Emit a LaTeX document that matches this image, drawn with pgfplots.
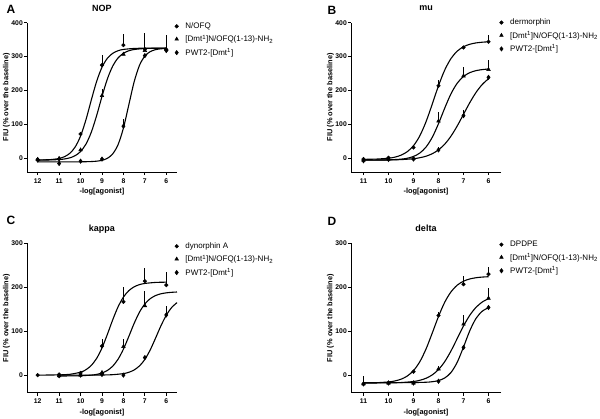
\documentclass[border=0pt]{standalone}
\usepackage{fontspec}
\setmainfont{Liberation Sans}
\usepackage{pgfplots}
\pgfplotsset{compat=1.18}

\pgfplotsset{
  prism/.style={
    scale only axis, width=150pt, height=149.3pt,
    axis lines=left, axis line style={-, line width=0.9pt},
    x dir=reverse, clip=false,
    tick align=outside, major tick length=3pt,
    tick style={line width=0.8pt, black},
    ticklabel style={font=\fontsize{6.8}{7}\selectfont\bfseries},
    yticklabel style={inner sep=1pt},
    /pgf/number format/assume math mode=true,
    label style={font=\fontsize{7.4}{8}\selectfont\bfseries},
    xlabel={-log[agonist]}, ylabel={FIU (\% over the baseline)},
    xlabel style={at={(axis description cs:0.5,-0.134)}, anchor=center},
    ylabel style={at={(axis description cs:-0.137,0.5)}, anchor=center},
    every axis title shift=0pt,
    title style={font=\fontsize{9}{10}\selectfont\bfseries, at={(axis description cs:0.5,1.098)}, anchor=center},
    ymin=-40,
    legend style={draw=none, fill=none, font=\fontsize{8}{9}\selectfont,
      anchor=north west, row sep=1pt, inner sep=0pt},
    legend cell align=left,
    legend image code/.code={\path (-3pt,0pt) (6.5pt,0pt); \draw[#1] plot coordinates {(0pt,0pt)};},
  },
  curve/.style={black, line width=1.1pt, smooth, no marks, forget plot},
  pts/.style={black, only marks, line width=0.5pt,
    error bars/y dir=plus, error bars/y explicit, error bars/error mark=none,
    error bars/error bar style={line width=0.9pt, black}},
}
\newcommand{\dmt}{[Dmt\textsuperscript{1}]N/OFQ(1-13)-NH\textsubscript{2}}
\newcommand{\pwt}{PWT2-[Dmt\textsuperscript{1}]}

\begin{document}
\begin{tikzpicture}
\useasboundingbox (0pt,0pt) rectangle (600pt,419pt);

\node[font=\fontsize{12}{12}\selectfont\bfseries] at (11pt,410pt) {A};
\node[font=\fontsize{12}{12}\selectfont\bfseries] at (332pt,409pt) {B};
\node[font=\fontsize{12}{12}\selectfont\bfseries] at (11pt,199pt) {C};
\node[font=\fontsize{12}{12}\selectfont\bfseries] at (332pt,198pt) {D};

% A: NOP
\begin{axis}[prism, at={(27pt,247pt)}, anchor=south west,
  title={NOP}, xmin=5.5, xmax=12.5, ymax=400,
  xtick={12,11,10,9,8,7,6}, ytick={0,100,200,300,400},
  legend style={at={(axis description cs:0.975,1.015)}}]
\addplot[curve] table {
x y
12 -4.7
11.5 -3.8
11.25 -2.5
11 0.0
10.75 5.1
10.5 15.1
10.25 33.8
10 66
9.75 113.8
9.5 171.9
9.25 227.1
9 268.8
8.75 295
8.5 309.7
8.25 317.4
8 321.2
7.5 324.1
7 324.8
6 325
};
\addplot[curve] table {
x y
12 -4.9
11.5 -4.6
11 -3.3
10.75 -1.6
10.5 1.7
10.25 8.2
10 20.3
9.75 42
9.5 77.1
9.25 126.3
9 182.6
8.75 234.1
8.5 272.2
8.25 296.2
8 309.9
7.75 317.3
7.5 321
7 324
6.5 324.7
6 325
};
\addplot[curve] table {
x y
12 -10
11 -10
10 -10
9.5 -9.2
9.25 -8.1
9 -5.6
8.75 0.3
8.5 13.4
8.25 40.6
8 89.4
7.75 157.5
7.5 225.6
7.25 274.4
7 301.6
6.75 314.7
6.5 320.6
6.25 323.1
6 324.2
};
\addplot[pts, mark=*, mark size=1.8pt] table[y error=e] {
x y e
12 -3 0
11 -2 0
10 72 0
9 275 30
8 334 34
7 322 48
6 320 45
};
\addlegendentry{N/OFQ}
\addplot[pts, mark=triangle*, mark size=2.1pt] table[y error=e] {
x y e
12 -3 0
11 0 0
10 25 0
9 185 20
8 307 0
7 318 0
6 322 0
};
\addlegendentry{\dmt}
\addplot[pts, mark=diamond*, mark size=2.2pt] table[y error=e] {
x y e
12 -5 0
11 -15 0
10 -8 0
9 -2 0
8 95 20
7 303 0
6 318 0
};
\addlegendentry{\pwt}
\end{axis}

% B: mu
\begin{axis}[prism, at={(351pt,247pt)}, anchor=south west,
  title={mu}, xmin=5.5, xmax=11.5, ymax=400,
  xtick={11,10,9,8,7,6}, ytick={0,100,200,300,400},
  legend style={at={(axis description cs:0.98,1.04)}}]
\addplot[curve] table {
x y
11 -2.7
10.5 -2
10 0.6
9.75 3.7
9.5 9.5
9.25 19.8
9 37.5
8.75 66.2
8.5 107.9
8.25 160
8 214.2
7.75 260.6
7.5 294.5
7.25 316.2
7 329.1
6.75 336.4
6.5 340.4
6.25 342.5
6 343.7
};
\addplot[curve] table {
x y
11 -5
10.5 -4.8
10 -4.3
9.5 -2.2
9.25 0.5
9 5.8
8.75 15.7
8.5 33.4
8.25 62.2
8 102.4
7.75 148.5
7.5 190.6
7.25 221.8
7 241.5
6.75 252.7
6.5 258.7
6.25 261.8
6 263.4
};
\addplot[curve] table {
x y
11 -4.9
10.5 -4.8
10 -4.5
9.5 -3.5
9 -0.8
8.75 2
8.5 6.5
8.25 13.8
8 25.2
7.75 42.1
7.5 65.7
7.25 95.8
7 130
6.75 164.2
6.5 194.3
6.25 217.9
6 234.8
};
\addplot[pts, mark=*, mark size=1.8pt] table[y error=e] {
x y e
11 -2 0
10 2 0
9 32 0
8 214 16
7 327 0
6 344 20
};
\addlegendentry{dermorphin}
\addplot[pts, mark=triangle*, mark size=2.1pt] table[y error=e] {
x y e
11 -5 0
10 -2 0
9 0 0
8 110 28
7 243 27
6 262 28
};
\addlegendentry{\dmt}
\addplot[pts, mark=diamond*, mark size=2.2pt] table[y error=e] {
x y e
11 -7 0
10 -3 0
9 -2 0
8 25 10
7 126 17
6 239 0
};
\addlegendentry{\pwt}
\end{axis}

% C: kappa
\begin{axis}[prism, at={(27pt,26.3pt)}, anchor=south west,
  title={kappa}, xmin=5.5, xmax=12.5, ymax=300,
  xtick={12,11,10,9,8,7,6}, ytick={0,100,200,300},
  legend style={at={(axis description cs:0.975,1.02)}}]
\addplot[curve] table {
x y
12 0
11 0.6
10.5 1.9
10 6.7
9.75 12.3
9.5 22.1
9.25 38.1
9 61.9
8.75 92.7
8.5 125.9
8.25 155.5
8 177.7
7.75 192.3
7.5 201.1
7.25 206.1
7 208.8
6.5 211.1
6 211.7
};
\addplot[curve] table {
x y
11 -2
10.5 -1.8
10 -1.4
9.5 0
9.25 1.7
9 4.9
8.75 10.6
8.5 20.4
8.25 36.2
8 59.2
7.75 87.9
7.5 117.8
7.25 143.5
7 162.1
6.75 174.1
6.5 181.2
6.25 185.2
6 187.4
5.75 188.6
5.5 189.3
};
\addplot[curve] table {
x y
11 0
10 0
9 0.3
8.5 1.0
8 3.5
7.75 6.4
7.5 11.8
7.25 21
7 35.8
6.75 57.4
6.5 84.3
6.25 112.3
6 136.4
5.75 153.9
5.5 165.1
};
\addplot[pts, mark=*, mark size=1.8pt] table[y error=e] {
x y e
12 0 0
11 1.5 0
10 5 0
9 66 16
8 167 34
7 214 29
6 205 30
};
\addlegendentry{dynorphin A}
\addplot[pts, mark=triangle*, mark size=2.1pt] table[y error=e] {
x y e
11 -1.5 0
10 0 0
9 6 0
8 65 18
7 158 33
};
\addlegendentry{\dmt}
\addplot[pts, mark=diamond*, mark size=2.2pt] table[y error=e] {
x y e
11 -1.5 0
10 0 0
9 1.5 0
8 0 0
7 40 0
6 137 21
};
\addlegendentry{\pwt}
\end{axis}

% D: delta
\begin{axis}[prism, at={(351pt,26.3pt)}, anchor=south west,
  title={delta}, xmin=5.5, xmax=11.5, ymax=300,
  xtick={11,10,9,8,7,6}, ytick={0,100,200,300},
  legend style={at={(axis description cs:0.98,1.03)}}]
\addplot[curve] table {
x y
11 -17.8
10.5 -17.3
10 -15.5
9.75 -13.3
9.5 -9.3
9.25 -2.1
9 10.3
8.75 30.3
8.5 59.4
8.25 95.8
8 133.6
7.75 166.1
7.5 189.7
7.25 204.9
7 213.9
6.75 219
6.5 221.8
6.25 223.3
6 224.1
};
\addplot[curve] table {
x y
11 -18
10 -17.6
9.5 -16.9
9 -14.5
8.75 -11.8
8.5 -7.2
8.25 0.5
8 12.7
7.75 30.8
7.5 55.1
7.25 83.5
7 111.9
6.75 136.2
6.5 154.3
6.25 166.5
6 174.2
};
\addplot[curve] table {
x y
11 -17
10 -17
9.5 -17
9 -16.9
8.5 -16.2
8.25 -15
8 -12.4
7.75 -6.5
7.5 6
7.25 29.4
7 63.9
6.75 100.9
6.5 129.1
6.25 145.5
6 153.6
};
\addplot[pts, mark=*, mark size=1.8pt] table[y error=e] {
x y e
11 -20 17
10 -18 0
9 8 0
8 136 8
7 207 19
6 230 17
};
\addlegendentry{DPDPE}
\addplot[pts, mark=triangle*, mark size=2.1pt] table[y error=e] {
x y e
11 -20 0
10 -18 0
9 -18 0
8 14 6
7 116 21
6 175 24
};
\addlegendentry{\dmt}
\addplot[pts, mark=diamond*, mark size=2.2pt] table[y error=e] {
x y e
11 -20 0
10 -18 0
9 -18 0
8 -14 5
7 63 0
6 154 0
};
\addlegendentry{\pwt}
\end{axis}
\end{tikzpicture}
\end{document}
